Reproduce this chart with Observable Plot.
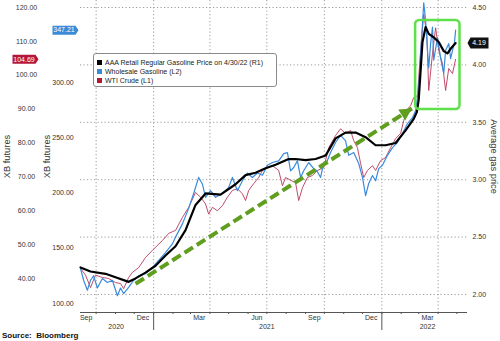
<!DOCTYPE html>
<html><head><meta charset="utf-8">
<script src="https://cdn.jsdelivr.net/npm/d3@7"></script>
<script src="https://cdn.jsdelivr.net/npm/@observablehq/plot@0.6"></script>
<style>
body{margin:0;background:#fff;}
#wrap{position:relative;width:500px;height:341px;overflow:hidden;font-family:"Liberation Sans",Arial,sans-serif;background:#fff;}
#wrap svg{position:absolute;left:0;top:0;}
.legend{position:absolute;left:93px;top:53px;width:184px;height:34px;border:1px solid #8a8a8a;border-radius:3px;background:#fff;font-size:7px;color:#222;padding:4px 0 0 3px;box-sizing:border-box;}
.legend div{height:9px;line-height:9px;display:flex;align-items:center;white-space:nowrap;}
.legend span.sw{display:inline-block;width:5px;height:5px;margin-right:3px;}
.source{position:absolute;left:2px;top:331px;font-weight:bold;font-size:8px;line-height:10px;color:#111;}
</style></head>
<body><div id="wrap"></div>
<script>
// ---------- DATA ----------
const gasDates = ["2020-09-06","2020-09-22","2020-10-16","2020-11-01","2020-11-22","2020-12-03","2020-12-19","2021-01-04","2021-01-20","2021-02-05","2021-02-21","2021-03-09","2021-03-25","2021-04-18","2021-05-12","2021-05-28","2021-06-13","2021-06-29","2021-07-15","2021-08-05","2021-08-16","2021-09-01","2021-09-17","2021-10-03","2021-10-19","2021-11-04","2021-11-20","2021-12-06","2021-12-22","2022-01-07","2022-01-23","2022-02-08","2022-02-21","2022-02-26","2022-03-01","2022-03-04","2022-03-07","2022-03-12","2022-03-17","2022-03-25","2022-04-02","2022-04-10","2022-04-16","2022-04-21","2022-04-29"];
const gasValues = [2.235,2.20,2.18,2.15,2.11,2.14,2.19,2.25,2.34,2.42,2.56,2.78,2.88,2.87,2.96,3.04,3.06,3.10,3.13,3.18,3.18,3.17,3.18,3.21,3.36,3.41,3.41,3.37,3.30,3.30,3.32,3.43,3.53,3.59,3.70,3.95,4.20,4.33,4.27,4.24,4.20,4.12,4.10,4.14,4.19];

const xbDates = ["2020-09-06","2020-09-11","2020-09-17","2020-09-22","2020-09-27","2020-10-03","2020-10-11","2020-10-19","2020-10-27","2020-11-04","2020-11-09","2020-11-14","2020-11-22","2020-11-30","2020-12-08","2020-12-19","2020-12-30","2021-01-09","2021-01-20","2021-01-31","2021-02-05","2021-02-16","2021-02-26","2021-03-06","2021-03-14","2021-03-20","2021-03-25","2021-04-02","2021-04-10","2021-04-21","2021-05-01","2021-05-07","2021-05-15","2021-05-23","2021-05-31","2021-06-08","2021-06-16","2021-06-24","2021-07-02","2021-07-10","2021-07-20","2021-07-28","2021-08-03","2021-08-08","2021-08-13","2021-08-19","2021-08-24","2021-08-29","2021-09-06","2021-09-14","2021-09-19","2021-09-25","2021-09-30","2021-10-04","2021-10-11","2021-10-19","2021-10-27","2021-11-04","2021-11-09","2021-11-17","2021-11-25","2021-12-01","2021-12-06","2021-12-11","2021-12-17","2021-12-22","2021-12-27","2022-01-02","2022-01-10","2022-01-18","2022-01-26","2022-02-03","2022-02-11","2022-02-19","2022-02-24","2022-03-01","2022-03-04","2022-03-07","2022-03-09","2022-03-12","2022-03-15","2022-03-17","2022-03-20","2022-03-23","2022-03-25","2022-03-31","2022-04-05","2022-04-10","2022-04-13","2022-04-18","2022-04-21","2022-04-24","2022-04-27","2022-04-29"];
const xbValues = [131.6,121,112,121,125,114,122.6,119,121,107,114,109,114.5,121,125,127,132.5,139,146,154,160,172,186,199.5,214,208,196,202,196,199.5,205,214,202,211,218,214,218,216,225,227.5,229,235.6,236.5,220,223,229,214,220,227.5,222,220,214,227,226.6,236.5,245.6,252,247,234,236.5,226.6,214,197.6,208.5,215.7,211,222,225,234,241,245.6,253.7,262.7,268,274.5,295,325,353,372,356,329,313,335,350,320,340.5,322,308,329,335,321.5,329,335,347.21];

const wtiDates = ["2020-09-06","2020-09-14","2020-09-22","2020-09-30","2020-10-11","2020-10-21","2020-11-01","2020-11-09","2020-11-14","2020-11-22","2020-11-28","2020-12-08","2020-12-19","2020-12-30","2021-01-15","2021-01-25","2021-02-05","2021-02-16","2021-02-26","2021-03-09","2021-03-17","2021-03-25","2021-03-30","2021-04-05","2021-04-13","2021-04-21","2021-04-29","2021-05-07","2021-05-15","2021-05-23","2021-05-28","2021-06-02","2021-06-10","2021-06-18","2021-06-24","2021-07-02","2021-07-10","2021-07-20","2021-07-26","2021-07-31","2021-08-08","2021-08-16","2021-08-21","2021-08-27","2021-09-04","2021-09-12","2021-09-20","2021-09-30","2021-10-08","2021-10-19","2021-10-27","2021-11-04","2021-11-12","2021-11-17","2021-11-23","2021-11-28","2021-12-03","2021-12-09","2021-12-17","2021-12-22","2021-12-30","2022-01-07","2022-01-15","2022-01-23","2022-01-31","2022-02-05","2022-02-11","2022-02-16","2022-02-21","2022-02-27","2022-03-04","2022-03-09","2022-03-14","2022-03-17","2022-03-23","2022-03-28","2022-04-02","2022-04-08","2022-04-13","2022-04-18","2022-04-24","2022-04-29"];
const wtiValues = [43,41,37.3,41,40.3,40,38.8,38.5,37,40.3,41.8,43.2,46.2,48.3,51.2,53.3,54.2,58,61,65.4,64,62,59,61,60,61.5,64,66,66.5,65,63,66,68,69.8,71.9,72.7,73.3,71.9,67.4,69.8,69,68.3,63,66.8,69.8,70.4,71.9,72.7,78.6,82.2,84.2,82.8,83.7,80.7,78.6,74,69.8,71.9,73.3,71.9,74.8,75.7,78.6,81.3,82.8,86.6,90,91,93.4,94,107.3,118,112,95.5,106.4,114,107.3,103.4,95.5,102,100.5,104.69];

const gasTicks = [2, 2.5, 3, 3.5, 4, 4.5];
const xbTicks = [100, 150, 200, 250, 300];
const wtiTicks = [40, 50, 60, 70, 80, 90, 100, 110, 120];
const gridDates = ["2020-10-01","2021-01-01","2021-04-01","2021-07-01","2021-10-01","2022-01-01","2022-04-01"];
const monthLabelDates = ["2020-09-15","2020-12-15","2021-03-15","2021-06-15","2021-09-15","2021-12-15","2022-03-15"];
const yearLabelDates = ["2020-11-02","2021-07-01","2022-03-15"];
const yearStarts = ["2021-01-01","2022-01-01"];
const legendLabels = ["AAA Retail Regular Gasoline Price on 4/30/22 (R1)","Wholesale Gasoline (L2)","WTI Crude (L1)"];
const leftTitle = "XB futures";
const rightTitle = "Average gas price";

// annotation (data units)
const boxStart = "2022-02-24", boxEnd = "2022-05-06", boxLow = 3.611, boxHigh = 4.387;
const arrowFrom = {date: "2020-12-03", value: 2.093};
const arrowTo = {date: "2022-02-18", value: 3.62};

// ---------- SETUP ----------
const parse = d3.utcParse("%Y-%m-%d");
const gas = gasDates.map((d, i) => ({date: parse(d), value: gasValues[i]}));
const xb = xbDates.map((d, i) => ({date: parse(d), value: xbValues[i]}));
const wti = wtiDates.map((d, i) => ({date: parse(d), value: wtiValues[i]}));

const gasFromXB = d3.scaleLinear().domain([100, 300]).range([1.9216, 3.848]);
const gasFromWTI = d3.scaleLinear().domain([40, 120]).range([2.1394, 4.5]);
const yLow = 1.843, yHigh = 4.561;

const gasColor = "#000", xbColor = "#3a8bdc", wtiColor = "#b8385a";
const tagBlue = "#3a8ad8", tagRed = "#b4163a";
const arrowColor = "#5f9e1e", boxColor = "#5ee04a";

function tagShape(width, height, point, dir) {
  return {draw(ctx) {
    const h = height / 2;
    ctx.moveTo(0, 0);
    ctx.lineTo(-dir * point, -h);
    ctx.lineTo(-dir * width, -h);
    ctx.lineTo(-dir * width, h);
    ctx.lineTo(-dir * point, h);
    ctx.closePath();
  }};
}
const arrowHead = {draw(ctx) { ctx.moveTo(0, 0); ctx.lineTo(-6.5, 12); ctx.lineTo(6.5, 12); ctx.closePath(); }};

const lastGas = gasValues[gasValues.length - 1];
const lastXB = xbValues[xbValues.length - 1];
const lastWTI = wtiValues[wtiValues.length - 1];
const monthStarts = d3.utcMonth.range(parse("2020-10-01"), parse("2022-05-02"));

const grid = {stroke: "#9a9a9a", strokeDasharray: "1.2,2.3", strokeWidth: 1};

const chart = Plot.plot({
  width: 500, height: 331,
  marginTop: 0, marginRight: 33, marginBottom: 19, marginLeft: 80,
  style: {fontFamily: "'Liberation Sans', Arial, sans-serif", fontSize: "7px", color: "#333", background: "transparent", overflow: "visible"},
  x: {type: "utc", domain: [parse("2020-09-06"), parse("2022-05-18")]},
  y: {domain: [yLow, yHigh]},
  marks: [
    Plot.ruleY(gasTicks, grid),
    Plot.ruleX(gridDates.map(parse), grid),
    Plot.line(wti, {x: "date", y: d => gasFromWTI(d.value), stroke: wtiColor, strokeWidth: 0.9}),
    Plot.line(xb, {x: "date", y: d => gasFromXB(d.value), stroke: xbColor, strokeWidth: 1.2}),
    Plot.line(gas, {x: "date", y: "value", stroke: gasColor, strokeWidth: 2.2}),
    Plot.rect([0], {x1: () => parse(boxStart), x2: () => parse(boxEnd), y1: boxLow, y2: boxHigh, fill: "none", stroke: boxColor, strokeWidth: 2.5, rx: 4}),
    Plot.link([0], {x1: () => parse(arrowFrom.date), y1: arrowFrom.value, x2: () => parse(arrowTo.date), y2: arrowTo.value, stroke: arrowColor, strokeWidth: 4, strokeDasharray: "10,4.5"}),
    Plot.dot([0], {x: () => parse(arrowTo.date), y: arrowTo.value, symbol: arrowHead, r: 6, rotate: 57.6, fill: arrowColor, stroke: "none"}),
    Plot.ruleY([yLow], {stroke: "#555", strokeWidth: 1}),
    // x axis ticks and labels
    Plot.axisX(monthStarts, {anchor: "bottom", tickSize: 2, tickFormat: () => "", label: null, stroke: "#555"}),
    Plot.axisX(yearStarts.map(parse), {anchor: "bottom", tickSize: 18, tickFormat: () => "", label: null, stroke: "#555"}),
    Plot.axisX(monthLabelDates.map(parse), {anchor: "bottom", tickSize: 0, tickPadding: 2.5, tickFormat: d3.utcFormat("%b"), label: null, fill: "#333"}),
    Plot.axisX(yearLabelDates.map(parse), {anchor: "bottom", tickSize: 0, tickPadding: 11.5, tickFormat: d3.utcFormat("%Y"), label: null, fill: "#333"}),
    // y axes
    Plot.axisY(wtiTicks.map(gasFromWTI), {anchor: "left", tickSize: 0, tickPadding: 0, dx: -54, textAnchor: "middle", tickFormat: d => gasFromWTI.invert(d).toFixed(2), label: null, fill: "#333"}),
    Plot.axisY(xbTicks.map(gasFromXB), {anchor: "left", tickSize: 0, tickPadding: 0, dx: -17.5, textAnchor: "middle", tickFormat: d => gasFromXB.invert(d).toFixed(2), label: null, fill: "#333"}),
    Plot.axisY(gasTicks, {anchor: "right", tickSize: 0, tickPadding: 5, tickFormat: d => d.toFixed(2), label: null, fill: "#333"}),
    // axis titles
    Plot.text([leftTitle], {frameAnchor: "left", dx: -73, rotate: -90, textAnchor: "middle", text: d => d, fontSize: 9.3, fill: "#333"}),
    Plot.text([leftTitle], {frameAnchor: "left", dx: -33, rotate: -90, textAnchor: "middle", text: d => d, fontSize: 9.3, fill: "#333"}),
    Plot.text([rightTitle], {frameAnchor: "right", dx: 26, rotate: 90, textAnchor: "middle", text: d => d, fontSize: 9.3, fill: "#333"}),
    // last value tags
    Plot.dot([lastXB], {y: d => gasFromXB(d), frameAnchor: "left", dx: -2, symbol: tagShape(26, 9, 3, 1), r: 5, fill: tagBlue, stroke: "none"}),
    Plot.text([lastXB], {y: d => gasFromXB(d), frameAnchor: "left", dx: -16.5, textAnchor: "middle", text: d => d.toFixed(2), fill: "white", fontSize: 7}),
    Plot.dot([lastWTI], {y: d => gasFromWTI(d), frameAnchor: "left", dx: -42, symbol: tagShape(26, 9, 3, 1), r: 5, fill: tagRed, stroke: "none"}),
    Plot.text([lastWTI], {y: d => gasFromWTI(d), frameAnchor: "left", dx: -56.5, textAnchor: "middle", text: d => d.toFixed(2), fill: "white", fontSize: 7}),
    Plot.dot([lastGas], {y: d => d, frameAnchor: "right", dx: 0, symbol: tagShape(21, 11, 3, -1), r: 5, fill: "#111", stroke: "none"}),
    Plot.text([lastGas], {y: d => d, frameAnchor: "right", dx: 11.5, textAnchor: "middle", text: d => d.toFixed(2), fill: "white", fontSize: 7})
  ]
});

const wrap = document.getElementById("wrap");
wrap.appendChild(chart);

const legend = document.createElement("div");
legend.className = "legend";
const legendColors = [gasColor, tagBlue, tagRed];
legendLabels.forEach((label, i) => {
  const row = document.createElement("div");
  const sw = document.createElement("span");
  sw.className = "sw";
  sw.style.background = legendColors[i];
  row.appendChild(sw);
  row.appendChild(document.createTextNode(label));
  legend.appendChild(row);
});
wrap.appendChild(legend);

const source = document.createElement("div");
source.className = "source";
source.textContent = "Source:  Bloomberg";
source.style.whiteSpace = "pre";
wrap.appendChild(source);
</script></body></html>
